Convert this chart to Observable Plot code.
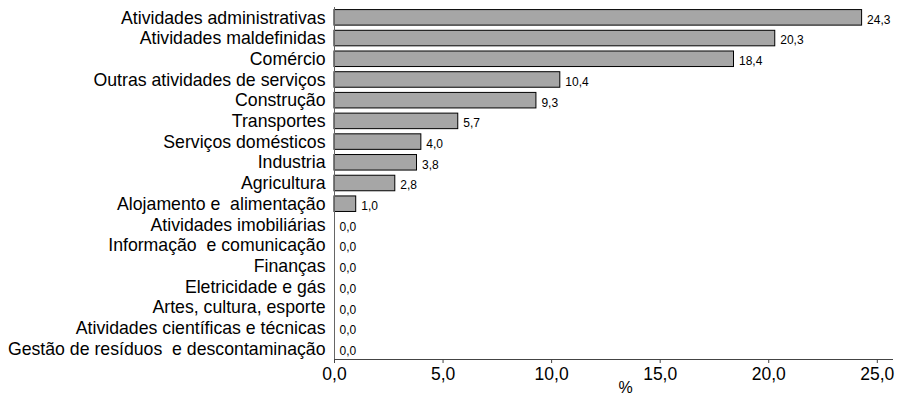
<!DOCTYPE html>
<html>
<head>
<meta charset="utf-8">
<script src="https://cdn.jsdelivr.net/npm/d3@7"></script>
<script src="https://cdn.jsdelivr.net/npm/@observablehq/plot@0.6"></script>
<style>
  html, body { margin: 0; padding: 0; background: #fff; }
  #chart svg { display: block; }
</style>
</head>
<body>
<div id="chart"></div>
<script>
const categories = [
  "Atividades administrativas",
  "Atividades maldefinidas",
  "Comércio",
  "Outras atividades de serviços",
  "Construção",
  "Transportes",
  "Serviços domésticos",
  "Industria",
  "Agricultura",
  "Alojamento e  alimentação",
  "Atividades imobiliárias",
  "Informação  e comunicação",
  "Finanças",
  "Eletricidade e gás",
  "Artes, cultura, esporte",
  "Atividades científicas e técnicas",
  "Gestão de resíduos  e descontaminação"
];
const values = [24.3, 20.3, 18.4, 10.4, 9.3, 5.7, 4.0, 3.8, 2.8, 1.0, 0.0, 0.0, 0.0, 0.0, 0.0, 0.0, 0.0];
const xTicks = [0, 5, 10, 15, 20, 25];
const xLabel = "%";

const data = categories.map((c, i) => ({cat: c, value: values[i]}));
const fmt = v => d3.format(".1f")(v).replace(".", ",");

const chart = Plot.plot({
  width: 902,
  height: 401,
  marginLeft: 334,
  marginRight: 10,
  marginTop: 7,
  marginBottom: 42,
  style: {fontFamily: "'Liberation Sans', Arial, sans-serif", color: "#000", background: "#fff"},
  x: {domain: [0, 25.7], ticks: xTicks, tickFormat: fmt},
  y: {domain: categories, paddingInner: 0.25, paddingOuter: 0.125, round: false},
  marks: [
    Plot.barX(data.filter(d => d.value > 0), {x: "value", y: "cat", fill: "#a6a6a6", stroke: "#000", strokeWidth: 1}),
    Plot.text(data, {x: "value", y: "cat", text: d => fmt(d.value), textAnchor: "start", dx: 5, dy: 2, fontSize: 12, fill: "#000"}),
    Plot.frame({anchor: "left", stroke: "#666"}),
    Plot.frame({anchor: "bottom", stroke: "#444"}),
    Plot.axisY({tickSize: 0, tickPadding: 9, fontSize: 17.7, label: null}),
    Plot.axisX({ticks: xTicks, tickFormat: fmt, tickSize: 4, tickPadding: 4, fontSize: 17.5, label: null, stroke: "#444"}),
    Plot.text([xLabel], {frameAnchor: "bottom", dx: 12, dy: 33, fontSize: 16, fill: "#000"})
  ]
});
document.getElementById("chart").appendChild(chart);
</script>
</body>
</html>
